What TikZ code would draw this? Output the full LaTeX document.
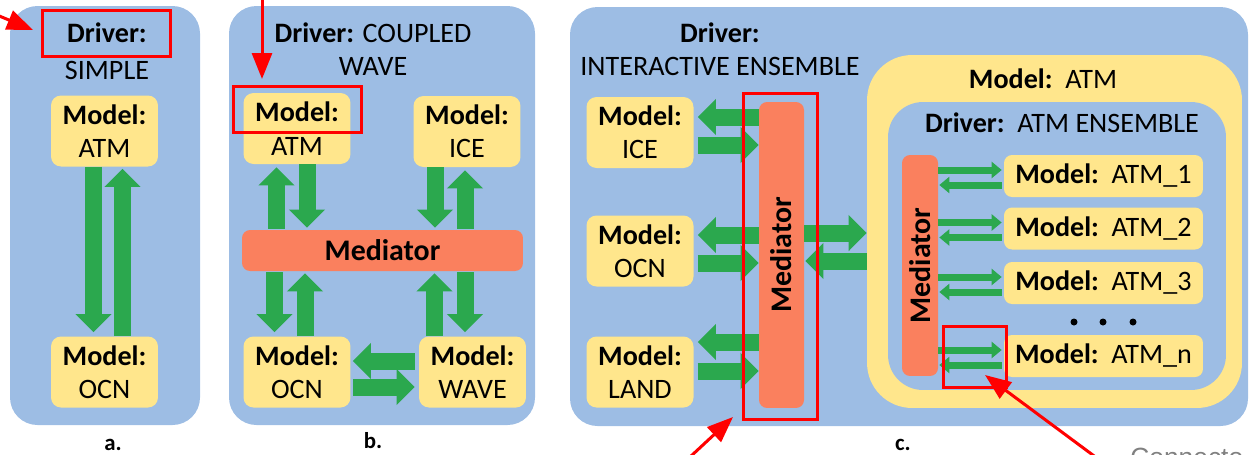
\documentclass[tikz,border=0pt]{standalone}
\usepackage{fontspec}
\setmainfont{Carlito}
\newfontfamily\notefont{Liberation Sans}
\usetikzlibrary{arrows.meta,calc,positioning}
\definecolor{drvblue}{RGB}{157,189,228}
\definecolor{mdlyellow}{RGB}{255,230,140}
\definecolor{medorange}{RGB}{250,128,94}
\definecolor{flowgreen}{RGB}{43,168,78}
\definecolor{calloutred}{RGB}{255,0,0}

\begin{document}
\begin{tikzpicture}[x=0.02cm,y=-0.02cm,
    txt/.style={font=\fontsize{16}{19}\selectfont, align=center, inner sep=0pt},
    panel/.style={fill=drvblue, rounded corners=0.55cm},
    model/.style={txt, fill=mdlyellow, rounded corners=0.2cm, minimum width=2.14cm, minimum height=1.42cm},
    member/.style={txt, fill=mdlyellow, rounded corners=0.16cm, minimum width=3.98cm, minimum height=0.84cm},
    mediator/.style={txt, font=\fontsize{17}{19}\selectfont\bfseries, fill=medorange, rounded corners=0.16cm},
    flow/.style={draw=flowgreen, line width=0.34cm, -{Triangle[length=0.36cm,width=0.7cm]}},
    thinflow/.style={draw=flowgreen, line width=0.14cm, -{Triangle[length=0.2cm,width=0.32cm]}},
    callout/.style={draw=calloutred, line width=0.06cm},
    pointer/.style={draw=calloutred, line width=0.06cm, -{Triangle[length=0.52cm,width=0.4cm]}},
    tag/.style={font=\fontsize{13}{15}\selectfont\bfseries, anchor=base, inner sep=0pt}]

  \useasboundingbox (0,0) rectangle (1250,454);
  \clip (0,0) rectangle (1250,454);

  % a. simple driver
  \path[panel] (10,6) rectangle (200,425);
  \node[txt] (drvA) at (107,51) {\textbf{Driver:}\\[2pt]SIMPLE};
  \node[model] (atmA) at (104.5,131) {\textbf{Model:}\\ATM};
  \node[model] (ocnA) at (104.5,372) {\textbf{Model:}\\OCN};
  \draw[flow] ($(atmA.south)+(-11,0)$) -- ($(ocnA.north)+(-11,-4)$);
  \draw[flow] ($(ocnA.north)+(18,0)$) -- ($(atmA.south)+(18,2)$);
  \draw[callout] (42,10) rectangle (170,56);
  \node[tag] (labA) at (113,450) {a.};

  % b. coupled wave driver
  \path[panel] (229,6) rectangle (535,425);
  \node[txt] (drvB) at (373,49) {\textbf{Driver:} COUPLED\\WAVE};
  \node[model] (atmB) at (297,128.5) {\textbf{Model:}\\ATM};
  \node[model] (iceB) at (467,131.5) {\textbf{Model:}\\ICE};
  \node[mediator, minimum width=5.62cm, minimum height=0.82cm] (medB) at (382.5,250.5) {Mediator};
  \node[model] (ocnB) at (297,372) {\textbf{Model:}\\OCN};
  \node[model] (waveB) at (472.5,372) {\textbf{Model:}\\WAVE};
  \draw[flow] ($(medB.north -| atmB.south)+(-20.5,-1)$) -- ($(atmB.south)+(-20.5,3)$);
  \draw[flow] ($(atmB.south)+(10,0)$) -- ($(medB.north -| atmB.south)+(10,-2)$);
  \draw[flow] ($(iceB.south)+(-32,0)$) -- ($(medB.north -| iceB.south)+(-32,-2)$);
  \draw[flow] ($(medB.north -| iceB.south)+(-2,-1)$) -- ($(iceB.south)+(-2,3)$);
  \draw[flow] ($(medB.south -| ocnB.north)+(-22.5,1)$) -- ($(ocnB.north)+(-22.5,-4)$);
  \draw[flow] ($(ocnB.north)+(8,0)$) -- ($(medB.south -| ocnB.north)+(8,2)$);
  \draw[flow] ($(waveB.north)+(-38,0)$) -- ($(medB.south -| waveB.north)+(-38,2)$);
  \draw[flow] ($(medB.south -| waveB.north)+(-7.5,1)$) -- ($(waveB.north)+(-7.5,-4)$);
  \draw[flow] ($(waveB.west)+(-4,-11)$) -- ($(ocnB.east)+(2,-11)$);
  \draw[flow] ($(ocnB.east)+(2,15)$) -- ($(waveB.west)+(-4,15)$);
  \draw[callout] (233,86) rectangle (361,132);
  \node[tag] (labB) at (373,448) {b.};

  % c. interactive ensemble driver
  \path[panel] (570,7) rectangle (1248,426);
  \node[txt] (drvC) at (720,49) {\textbf{Driver:}\\INTERACTIVE ENSEMBLE};
  \node[model] (iceC) at (640,132.5) {\textbf{Model:}\\ICE};
  \node[model] (ocnC) at (640,251) {\textbf{Model:}\\OCN};
  \node[model] (landC) at (640,372) {\textbf{Model:}\\LAND};
  \node[mediator, minimum width=0.9cm, minimum height=6.12cm] (medC) at (781.5,255) {\rotatebox{90}{Mediator}};
  \draw[flow] ($(medC.west |- iceC.east)+(0,-15.5)$) -- ($(iceC.east)+(4,-15.5)$);
  \draw[flow] ($(iceC.east)+(4,12.5)$) -- ($(medC.west |- iceC.east)+(0,12.5)$);
  \draw[flow] ($(medC.west |- ocnC.east)+(0,-16)$) -- ($(ocnC.east)+(4,-16)$);
  \draw[flow] ($(ocnC.east)+(4,12)$) -- ($(medC.west |- ocnC.east)+(0,12)$);
  \draw[flow] ($(medC.west |- landC.east)+(0,-30)$) -- ($(landC.east)+(4,-30)$);
  \draw[flow] ($(landC.east)+(4,-1)$) -- ($(medC.west |- landC.east)+(0,-1)$);

  % ATM model holding the ensemble
  \node[fill=mdlyellow, rounded corners=0.9cm, minimum width=7.5cm, minimum height=7.06cm] (atmC) at (1054.5,231.5) {};
  \node[txt] (atmLbl) at (1043,79) {\textbf{Model:}\ \ ATM};
  \node[fill=drvblue, rounded corners=0.7cm, minimum width=6.76cm, minimum height=5.76cm] (ensC) at (1057,246) {};
  \node[txt] (ensLbl) at (1062,123) {\textbf{Driver:}\ \ ATM ENSEMBLE};
  \draw[flow] ($(medC.east)+(0,-22)$) -- ($(medC.east -| atmC.west)+(0,-22)$);
  \draw[flow] ($(medC.east -| atmC.west)+(0,6)$) -- ($(medC.east)+(1,6)$);
  \node[mediator, minimum width=0.72cm, minimum height=4.42cm] (medE) at (920,265.5) {\rotatebox{90}{Mediator}};
  \foreach \k/\yy in {1/176,2/228.5,3/283,n/356}{
    \node[member] (mem\k) at (1103.5,\yy) {\textbf{Model:}\ \ ATM\_\k};
    \draw[thinflow] ($(medE.east |- mem\k.west)+(0,-6)$) -- ($(mem\k.west)+(-2,-6)$);
    \draw[thinflow] ($(mem\k.west)+(-2,9)$) -- ($(medE.east |- mem\k.west)+(1,9)$);
  }
  \foreach \xx in {1074,1103,1133}
    \fill (\xx,322) circle (3.5);
  \draw[callout] (743,93) rectangle (817,419);
  \draw[callout] (943,326) rectangle (1006,387);
  \node[tag] (labC) at (903,450) {c.};
  \node[anchor=north west, inner sep=0pt, text=gray, font=\notefont\fontsize{15}{18}\selectfont] (note) at (1130,448) {Connecto};

  % red pointers
  \coordinate (tailA) at (-20,8);   \coordinate (tipA) at (33,30);
  \coordinate (tailB) at (262,-10); \coordinate (tipB) at (262,79);
  \coordinate (tailC) at (676,470); \coordinate (tipC) at (733,417);
  \coordinate (tailD) at (1113,470); \coordinate (tipD) at (985,375);
  \draw[pointer] (tailA) -- (tipA);
  \draw[pointer] (tailB) -- (tipB);
  \draw[pointer] (tailC) -- (tipC);
  \draw[pointer] (tailD) -- (tipD);
\end{tikzpicture}
\end{document}
